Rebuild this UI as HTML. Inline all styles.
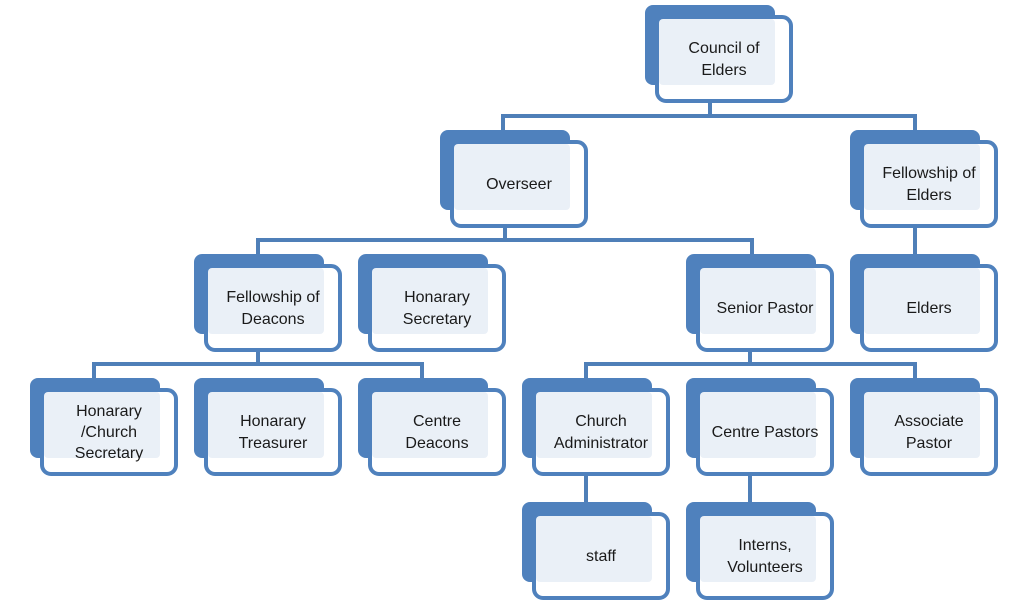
<!DOCTYPE html>
<html><head><meta charset="utf-8"><style>
html,body{margin:0;padding:0;background:#fff;}
svg text{font-family:"Liberation Sans",sans-serif;font-size:16px;fill:#1a1a1a;text-anchor:middle;}
</style></head><body>
<svg width="1024" height="602" viewBox="0 0 1024 602" xmlns="http://www.w3.org/2000/svg">
<g stroke="#4f7fb8" stroke-width="4" fill="none">
<path d="M710 102V116M503 130V116H915V130"/>
<path d="M505 228V240M258 254V240H752V254"/>
<path d="M915 228V254"/>
<path d="M258 352V364M94 378V364H422V378"/>
<path d="M750 352V364M586 378V364H915V378"/>
<path d="M586 476V502M750 476V502"/>
</g>
<defs>
<g id="n">
<rect x="0" y="0" width="130" height="80" rx="8" fill="#4f81bd"/>
<rect x="12" y="12" width="134" height="84" rx="9" fill="#fff" stroke="#4f81bd" stroke-width="4"/>
<rect x="14" y="14" width="116" height="66" rx="4" fill="#eaf0f7"/>
</g>
</defs>
<use href="#n" x="645" y="5"/>
<use href="#n" x="440" y="130"/>
<use href="#n" x="850" y="130"/>
<use href="#n" x="194" y="254"/>
<use href="#n" x="358" y="254"/>
<use href="#n" x="686" y="254"/>
<use href="#n" x="850" y="254"/>
<use href="#n" x="30" y="378"/>
<use href="#n" x="194" y="378"/>
<use href="#n" x="358" y="378"/>
<use href="#n" x="522" y="378"/>
<use href="#n" x="686" y="378"/>
<use href="#n" x="850" y="378"/>
<use href="#n" x="522" y="502"/>
<use href="#n" x="686" y="502"/>
<text x="724" y="53">Council of</text><text x="724" y="75">Elders</text>
<text x="519" y="189">Overseer</text>
<text x="929" y="178">Fellowship of</text><text x="929" y="200">Elders</text>
<text x="273" y="302">Fellowship of</text><text x="273" y="324">Deacons</text>
<text x="437" y="302">Honarary</text><text x="437" y="324">Secretary</text>
<text x="765" y="313">Senior Pastor</text>
<text x="929" y="313">Elders</text>
<text x="109" y="416">Honarary</text><text x="109" y="437">/Church</text><text x="109" y="458">Secretary</text>
<text x="273" y="426">Honarary</text><text x="273" y="448">Treasurer</text>
<text x="437" y="426">Centre</text><text x="437" y="448">Deacons</text>
<text x="601" y="426">Church</text><text x="601" y="448">Administrator</text>
<text x="765" y="437">Centre Pastors</text>
<text x="929" y="426">Associate</text><text x="929" y="448">Pastor</text>
<text x="601" y="561">staff</text>
<text x="765" y="550">Interns,</text><text x="765" y="572">Volunteers</text>
</svg>
</body></html>
